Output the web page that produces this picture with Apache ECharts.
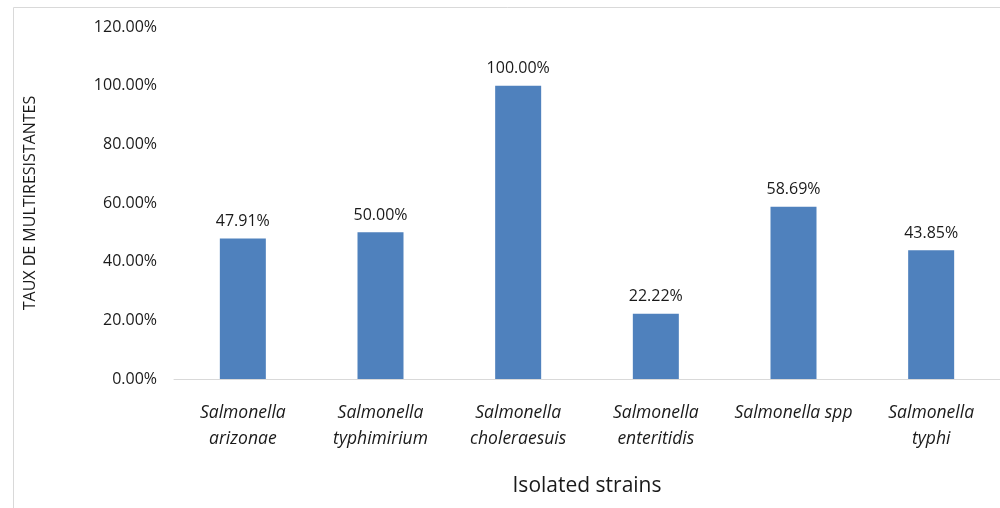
<!DOCTYPE html>
<html><head><meta charset="utf-8">
<script src="https://cdn.jsdelivr.net/npm/echarts@6/dist/echarts.min.js"></script>
<style>html,body{margin:0;padding:0;background:#fff}#c{width:1000px;height:508px}</style>
</head><body><div id="c"></div>
<script>
const categories = ['Salmonella\narizonae','Salmonella\ntyphimirium','Salmonella\ncholeraesuis','Salmonella\nenteritidis','Salmonella spp','Salmonella\ntyphi'];
const values = [47.91, 50.00, 100.00, 22.22, 58.69, 43.85];
const yTicks = [0, 20, 40, 60, 80, 100, 120];
const FONT = 'Open Sans';
const chart = echarts.init(document.getElementById('c'));
chart.setOption({
  animation: false,
  graphic: [{type:'rect', shape:{x:13.5,y:7.5,width:1000,height:520}, style:{fill:'none',stroke:'#d9d9d9',lineWidth:1}, silent:true}],
  grid: {left:174, top:27, width:828, height:352},
  xAxis: {
    type:'category', data:categories,
    name:'Isolated strains', nameLocation:'middle', nameGap:97,
    nameTextStyle:{fontFamily:FONT,fontSize:21,color:'#1a1a1a'},
    axisLine:{lineStyle:{color:'#d9d9d9',width:1}},
    axisTick:{show:false},
    axisLabel:{fontFamily:FONT,fontSize:17.5,fontStyle:'italic',color:'#1a1a1a',lineHeight:26,margin:21,interval:0}
  },
  yAxis: {
    type:'value', min:yTicks[0], max:yTicks[yTicks.length-1], interval:20,
    name:'TAUX DE MULTIRESISTANTES', nameLocation:'middle', nameGap:136, nameRotate:90,
    nameTextStyle:{fontFamily:FONT,fontSize:16,color:'#1a1a1a'},
    splitLine:{show:false}, axisLine:{show:false}, axisTick:{show:false},
    axisLabel:{fontFamily:FONT,fontSize:16,color:'#1a1a1a',margin:17,formatter:v=>v.toFixed(2)+'%'}
  },
  series: [{
    type:'bar', data:values, barWidth:46,
    itemStyle:{color:'#4F81BD'},
    label:{show:true,position:'top',distance:9,fontFamily:FONT,fontSize:16,color:'#1a1a1a',formatter:p=>p.value.toFixed(2)+'%'}
  }]
});
</script></body></html>
